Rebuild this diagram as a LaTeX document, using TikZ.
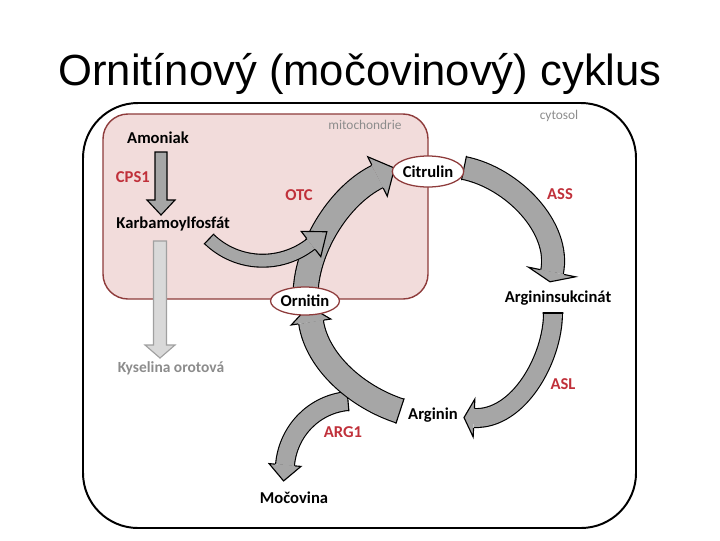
\documentclass[tikz,border=0pt]{standalone}
\usepackage{fontspec}
\setmainfont{Carlito}
\newfontfamily\titlefont{Liberation Sans}
\usepackage{tikz}
\usetikzlibrary{calc}
\usetikzlibrary{shapes.geometric}
\definecolor{mito-fill}{HTML}{F2DCDB}
\definecolor{mito-line}{HTML}{8E3B3B}
\definecolor{enz-red}{HTML}{C0303A}
\definecolor{arrow-gray}{HTML}{A6A6A6}
\definecolor{side-gray}{HTML}{D9D9D9}
\definecolor{side-line}{HTML}{A0A0A0}
\definecolor{label-gray}{HTML}{8C8C8C}

% curved block arrow: tail, control 1, control 2, head base, shaft width, head half width, head length (px)
\newcommand{\blockarc}[7]{%
  \pgfmathsetmacro{\bgap}{#5*0.7113-1.6}%
  \draw[line width=0.8pt, double=arrow-gray, double distance=\bgap pt] (#1) .. controls (#2) and (#3) .. (#4);
  \draw[line width=0.8pt, line cap=round] ($(#1)!{#5*0.0125cm}!90:(#2)$) -- ($(#1)!{#5*0.0125cm}!-90:(#2)$);
  \filldraw[fill=arrow-gray, line width=0.8pt, line join=miter]
    ($(#4)!{#5*0.0125cm}!90:(#3)$) -- ($(#4)!{#6*0.025cm}!90:(#3)$)
    -- ($(#4)!{-#7*0.025cm}!(#3)$)
    -- ($(#4)!{#6*0.025cm}!-90:(#3)$) -- ($(#4)!{#5*0.0125cm}!-90:(#3)$);
}

\begin{document}
\begin{tikzpicture}[x=0.025cm, y=-0.025cm,
    met/.style={font=\bfseries\fontsize{11.8}{13}\selectfont, anchor=base},
    enz/.style={font=\bfseries\fontsize{11.8}{13}\selectfont, enz-red, anchor=base},
    compart/.style={font=\fontsize{9.5}{11}\selectfont, label-gray, anchor=base},
    pool/.style={ellipse, draw=mito-line, fill=white, line width=0.9pt, inner sep=0pt,
                 minimum width=1.6cm, font=\bfseries\fontsize{11.8}{13}\selectfont}]
    \useasboundingbox (0,0) rectangle (720,540);

    % Title
    \node[font=\titlefont\fontsize{31}{37}\selectfont, anchor=base] (title) at (360,85) {Ornitínový (močovinový) cyklus};

    % Cytosol and mitochondrion
    \draw[line width=1.4pt, rounded corners=1.375cm] (83,103) rectangle (636,528);
    \draw[draw=mito-line, fill=mito-fill, line width=1pt, rounded corners=0.625cm] (103,114) rectangle (428,299);
    \node[compart] (mito) at (365,129) {mitochondrie};
    \node[compart] (cyto) at (559,119) {cytosol};

    % CPS1 step and side branch
    \draw[line width=0.8pt, fill=arrow-gray, line join=miter]
        (155,152) -- (167,152) -- (167,200) -- (175,200) -- (161,215) -- (147,200) -- (155,200) -- cycle;
    \draw[side-line, line width=0.8pt, fill=side-gray, line join=miter]
        (153.5,241) -- (166.5,241) -- (166.5,345) -- (175,345) -- (160,358) -- (145,345) -- (153.5,345) -- cycle;

    % Arginin -> Mocovina (under the main arrow)
    \coordinate (arg1-s) at (348,401);
    \coordinate (arg1-c1) at (314,404);
    \coordinate (arg1-c2) at (288,431);
    \coordinate (arg1-e) at (285,465);
    \blockarc{arg1-s}{arg1-c1}{arg1-c2}{arg1-e}{20}{16}{16}

    % Arginin -> Ornitin
    \coordinate (arg-s) at (400,411);
    \coordinate (arg-c1) at (357,397);
    \coordinate (arg-c2) at (317,362);
    \coordinate (arg-e) at (311,322);
    \blockarc{arg-s}{arg-c1}{arg-c2}{arg-e}{26}{20}{16}

    % Ornitin -> Citrulin (OTC)
    \coordinate (otc-s) at (305.5,296);
    \coordinate (otc-c1) at (305.5,250);
    \coordinate (otc-c2) at (338,196);
    \coordinate (otc-e) at (377.5,176.5);
    \blockarc{otc-s}{otc-c1}{otc-c2}{otc-e}{26}{22}{19}

    % Karbamoylfosfat -> OTC
    \coordinate (cp-s) at (209,239);
    \coordinate (cp-c1) at (237,266);
    \coordinate (cp-c2) at (280,268);
    \coordinate (cp-e) at (311,244);
    \blockarc{cp-s}{cp-c1}{cp-c2}{cp-e}{14}{16}{20}

    % Citrulin -> Argininsukcinat (ASS)
    \coordinate (ass-s) at (464,168);
    \coordinate (ass-c1) at (513,178);
    \coordinate (ass-c2) at (561,228);
    \coordinate (ass-e) at (552,272);
    \blockarc{ass-s}{ass-c1}{ass-c2}{ass-e}{24}{24}{10}

    % Argininsukcinat -> Arginin (ASL)
    \coordinate (asl-s) at (553,313);
    \coordinate (asl-c1) at (553,358);
    \coordinate (asl-c2) at (519,420);
    \coordinate (asl-e) at (474,418);
    \blockarc{asl-s}{asl-c1}{asl-c2}{asl-e}{20}{19}{10}

    % Intermediates in ellipses
    \node[pool, minimum height=0.775cm] (cit) at (428,171.5) {Citrulin};
    \node[pool, minimum height=0.7cm] (orn) at (305,301) {Ornitin};

    % Labels
    \node[met] (amon) at (158,143) {Amoniak};
    \node[enz, anchor=base west] (cps) at (111,182) {CPS1};
    \node[met, anchor=base west] (karb) at (111.5,228) {Karbamoylfosfát};
    \node[font=\bfseries\fontsize{11}{13}\selectfont, label-gray, anchor=base] (orot) at (171,372) {Kyselina orotová};
    \node[enz] (otc) at (299,200) {OTC};
    \node[enz] (ass) at (560,199) {ASS};
    \node[met] (asuk) at (558,302) {Argininsukcinát};
    \node[enz] (asl) at (563,389) {ASL};
    \node[met] (argn) at (433,419) {Arginin};
    \node[enz] (arg) at (343,437) {ARG1};
    \node[met] (urea) at (294,503) {Močovina};
\end{tikzpicture}
\end{document}
